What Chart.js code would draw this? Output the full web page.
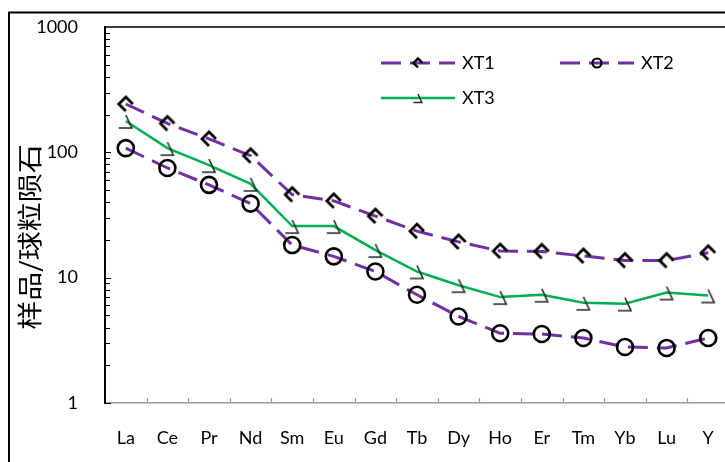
<!DOCTYPE html>
<html lang="zh">
<head>
<meta charset="UTF-8">
<title>REE pattern</title>
<script src="https://cdn.jsdelivr.net/npm/chart.js"></script>
<style>
    html, body { margin: 0; padding: 0; background: #fff; overflow: hidden; }
    #wrap { width: 760px; height: 480px; }
</style>
</head>
<body>
<div id="wrap"><canvas id="reeChart" width="760" height="480"></canvas></div>
<script>
    const categories = ['La', 'Ce', 'Pr', 'Nd', 'Sm', 'Eu', 'Gd', 'Tb', 'Dy', 'Ho', 'Er', 'Tm', 'Yb', 'Lu', 'Y'];
    const xt1Values = [243, 170, 128, 94, 46, 41, 31, 23.5, 19.3, 16.3, 16.2, 14.9, 13.7, 13.7, 15.8];
    const xt2Values = [108, 75, 55, 39, 18.2, 14.8, 11.2, 7.3, 4.9, 3.6, 3.55, 3.3, 2.8, 2.75, 3.3];
    const xt3Values = [178, 108, 79, 56, 25.8, 25.8, 16.6, 11.2, 8.7, 7.0, 7.3, 6.3, 6.2, 7.6, 7.2];
    const yTicks = [1, 10, 100, 1000];
    const yTitle = '样品/球粒陨石';

    const purple = '#7030A0';
    const green = '#00B050';
    const dash = [20, 9];
    const labelFont = '18px Lato';

    // XT1 marker: diamond outline with the lower-right side missing
    function xt1Marker(h, lw) {
        const s = 2 * Math.ceil(h + lw + 1);
        const c = document.createElement('canvas');
        c.width = s; c.height = s;
        const g = c.getContext('2d');
        const m = s / 2;
        g.strokeStyle = '#000';
        g.lineWidth = lw;
        g.beginPath();
        g.moveTo(m + h, m);
        g.lineTo(m, m - h);
        g.lineTo(m - h, m);
        g.lineTo(m, m + h);
        g.stroke();
        return c;
    }

    // XT3 marker: slanted stroke with a foot going left
    function xt3Marker(k, lw) {
        const s = 2 * Math.ceil(8 * k + lw + 1);
        const c = document.createElement('canvas');
        c.width = s; c.height = s;
        const g = c.getContext('2d');
        const m = s / 2;
        g.strokeStyle = '#262626';
        g.lineWidth = lw;
        g.beginPath();
        g.moveTo(m, m - 6 * k);
        g.lineTo(m + 6 * k, m + 7 * k);
        g.lineTo(m - 7 * k, m + 7 * k);
        g.stroke();
        return c;
    }

    const m1 = xt1Marker(7, 2.8);
    const m3 = xt3Marker(1, 1.6);
    const m1Small = xt1Marker(4.5, 2.4);
    const m3Small = xt3Marker(0.65, 1.4);

    const decor = {
        id: 'decor',
        afterDraw(chart) {
            const ctx = chart.ctx;
            const area = chart.chartArea;
            const xs = chart.scales.x;
            const ys = chart.scales.y;
            ctx.save();

            // plot top border
            ctx.strokeStyle = '#000';
            ctx.lineWidth = 1.5;
            ctx.beginPath();
            ctx.moveTo(area.left, area.top);
            ctx.lineTo(area.right + 40, area.top);
            ctx.stroke();

            // y tick marks (major + minor), pointing inside
            ctx.lineWidth = 1;
            ctx.beginPath();
            [1, 10, 100].forEach(d => {
                for (let k = 1; k <= 9; k++) {
                    const y = Math.round(ys.getPixelForValue(d * k)) + 0.5;
                    const len = k === 1 ? 6 : 5;
                    ctx.moveTo(area.left, y);
                    ctx.lineTo(area.left + len, y);
                }
            });
            ctx.stroke();

            // x tick marks at category boundaries
            ctx.strokeStyle = '#9a9a9a';
            ctx.lineWidth = 1.2;
            ctx.beginPath();
            for (let i = 1; i <= categories.length; i++) {
                const x = Math.round(xs.getPixelForValue(i - 0.5)) + 0.5;
                ctx.moveTo(x, area.bottom);
                ctx.lineTo(x, area.bottom - 5);
            }
            ctx.stroke();

            // outer frame
            ctx.strokeStyle = '#000';
            ctx.lineWidth = 2;
            ctx.strokeRect(9, 12.5, 800, 600);

            // y axis title (a bit below the axis middle, as in the original)
            ctx.save();
            ctx.translate(30, 237);
            ctx.rotate(-Math.PI / 2);
            ctx.scale(1, 0.85);
            ctx.fillStyle = '#000';
            ctx.font = '29px "Noto Sans CJK SC"';
            ctx.textAlign = 'center';
            ctx.textBaseline = 'middle';
            ctx.fillText(yTitle, 0, 0);
            ctx.restore();

            // legend
            const items = [
                { text: 'XT1', x: 381, y: 63, color: purple, width: 3, dash: dash, marker: m1Small },
                { text: 'XT2', x: 560, y: 63, color: purple, width: 3, dash: dash, circle: true },
                { text: 'XT3', x: 381, y: 98, color: green, width: 2.5, dash: [], marker: m3Small }
            ];
            items.forEach(it => {
                ctx.strokeStyle = it.color;
                ctx.lineWidth = it.width;
                ctx.setLineDash(it.dash);
                ctx.beginPath();
                ctx.moveTo(it.x, it.y);
                ctx.lineTo(it.x + 74, it.y);
                ctx.stroke();
                ctx.setLineDash([]);
                const cx = it.x + 37;
                if (it.circle) {
                    ctx.strokeStyle = '#000';
                    ctx.lineWidth = 2.2;
                    ctx.beginPath();
                    ctx.arc(cx, it.y, 4.5, 0, Math.PI * 2);
                    ctx.stroke();
                } else {
                    ctx.drawImage(it.marker, cx - it.marker.width / 2, it.y - it.marker.height / 2);
                }
                ctx.fillStyle = '#000';
                ctx.font = labelFont;
                ctx.textBaseline = 'middle';
                ctx.textAlign = 'left';
                ctx.fillText(it.text, it.x + 81, it.y);
            });
            ctx.restore();
        }
    };

    const ctx = document.getElementById('reeChart').getContext('2d');
    const reeChart = new Chart(ctx, {
        type: 'line',
        data: {
            labels: categories,
            datasets: [
                {
                    label: 'XT1', data: xt1Values,
                    borderColor: purple, borderWidth: 3, borderDash: dash,
                    pointStyle: m1, pointRadius: 7, tension: 0, fill: false
                },
                {
                    label: 'XT2', data: xt2Values,
                    borderColor: purple, borderWidth: 3, borderDash: dash,
                    pointStyle: 'circle', pointRadius: 8, pointBorderColor: '#000',
                    pointBorderWidth: 2.6, pointBackgroundColor: 'rgba(0,0,0,0)',
                    tension: 0, fill: false
                },
                {
                    label: 'XT3', data: xt3Values,
                    borderColor: green, borderWidth: 2.5,
                    pointStyle: m3, pointRadius: 7, tension: 0, fill: false
                }
            ]
        },
        options: {
            responsive: false,
            animation: false,
            events: [],
            layout: { padding: { left: 0, top: 27, right: 31, bottom: 0 } },
            plugins: { legend: { display: false }, tooltip: { enabled: false } },
            scales: {
                x: {
                    type: 'category',
                    offset: true,
                    grid: { display: false, drawTicks: false },
                    border: { display: true, color: '#9a9a9a', width: 1.5 },
                    ticks: { color: '#000', font: { family: 'Lato', size: 18 }, padding: 24, maxRotation: 0, autoSkip: false },
                    afterFit: s => { s.height = 77; }
                },
                y: {
                    type: 'logarithmic',
                    min: 1,
                    max: 1000,
                    grid: { display: false, drawTicks: false },
                    border: { display: true, color: '#000', width: 2 },
                    ticks: {
                        color: '#000', font: { family: 'Lato', size: 18 }, padding: 27,
                        callback: v => String(v)
                    },
                    afterBuildTicks: s => { s.ticks = yTicks.map(v => ({ value: v, major: true })); },
                    afterFit: s => { s.width = 105; s.paddingTop = 11; s.paddingBottom = 11; }
                }
            }
        },
        plugins: [decor]
    });
</script>
</body>
</html>
